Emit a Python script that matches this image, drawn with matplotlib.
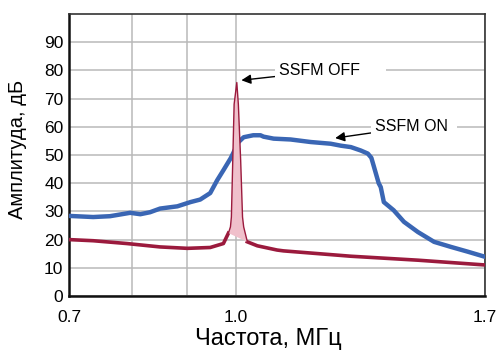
import matplotlib
matplotlib.use("Agg")
import matplotlib.pyplot as plt
from matplotlib.ticker import FixedLocator, NullFormatter

plt.rcParams["font.family"] = ["Liberation Sans", "DejaVu Sans"]

# SSFM ON (blue) spectrum
freq_on = [0.700, 0.737, 0.764, 0.7975, 0.815, 0.832, 0.850, 0.882, 0.907, 0.926,
           0.946, 0.960, 0.973, 0.988, 0.994, 1.005, 1.016, 1.037, 1.053, 1.060,
           1.083, 1.123, 1.172, 1.223, 1.250, 1.277, 1.304, 1.324, 1.334, 1.341,
           1.355, 1.361, 1.370, 1.399, 1.430, 1.473, 1.525, 1.581, 1.639, 1.700]
db_on = [28.4, 28.0, 28.3, 29.5, 29.0, 29.7, 31.0, 31.8, 33.3, 34.2,
         36.5, 41.0, 44.6, 48.8, 50.8, 54.6, 56.3, 57.0, 57.0, 56.5,
         55.8, 55.5, 54.6, 54.0, 53.3, 52.8, 51.6, 50.5, 49.0, 46.0,
         40.0, 38.6, 33.3, 30.4, 26.3, 22.7, 19.2, 17.4, 15.7, 13.9]

# SSFM OFF (red) spectrum: floor left of carrier, carrier spike, floor right
freq_off_left = [0.700, 0.737, 0.792, 0.850, 0.901, 0.946, 0.973, 0.9835]
db_off_left = [20.0, 19.6, 18.6, 17.4, 16.9, 17.2, 18.6, 22.3]
freq_spike = [0.9835, 0.9877, 0.9897, 0.9926, 0.9955, 1.0012, 1.0045, 1.0095, 1.0135, 1.016, 1.024]
db_spike = [22.3, 24.5, 28.0, 48.0, 68.0, 75.7, 68.0, 48.0, 28.0, 24.5, 19.2]
freq_off_right = [1.024, 1.046, 1.091, 1.106, 1.277, 1.473, 1.700]
db_off_right = [19.2, 17.8, 16.3, 16.0, 14.1, 12.7, 11.0]

x_ticks = [0.7, 1.0, 1.7]
x_ticklabels = ["0.7", "1.0", "1.7"]
y_ticks = [0, 10, 20, 30, 40, 50, 60, 70, 80, 90]

BLUE = "#3a66b4"
RED = "#9b1a3d"
PINK = "#f0c0cb"

fig = plt.figure(figsize=(4.99, 3.55), dpi=100)
ax = fig.add_axes([0.1383, 0.1662, 0.8337, 0.7944])

ax.set_xscale("log")
ax.set_xlim(0.7, 1.7)
ax.set_ylim(0, 100)

ax.plot(freq_on, db_on, color=BLUE, lw=3.2, solid_joinstyle="round", zorder=3)
ax.plot(freq_off_left, db_off_left, color=RED, lw=2.6, solid_joinstyle="round", zorder=4)
ax.plot(freq_off_right, db_off_right, color=RED, lw=2.6, solid_joinstyle="round", zorder=4)
ax.fill(freq_spike, db_spike, facecolor=PINK, edgecolor="none", zorder=4)
ax.plot(freq_spike, db_spike, color=RED, lw=1.0, zorder=5)

ax.xaxis.set_major_locator(FixedLocator(x_ticks))
ax.xaxis.set_minor_locator(FixedLocator([0.8, 0.9]))
ax.xaxis.set_minor_formatter(NullFormatter())
ax.set_xticklabels(x_ticklabels)
ax.set_yticks(y_ticks)
ax.tick_params(axis="both", which="both", length=0, labelsize=12.5)
ax.tick_params(axis="x", pad=10)
ax.tick_params(axis="y", pad=4)

ax.grid(True, which="both", color="#b9b9b9", lw=1.1, zorder=0)
ax.set_axisbelow(True)

for side in ("left", "bottom"):
    ax.spines[side].set_linewidth(1.8)
    ax.spines[side].set_color("#111111")
for side in ("top", "right"):
    ax.spines[side].set_linewidth(1.2)
    ax.spines[side].set_color("#333333")

ax.set_xlabel("Частота, МГц", fontsize=17)
ax.set_ylabel("Амплитуда, дБ", fontsize=14.5)
ax.xaxis.set_label_coords(0.48, -0.115)
ax.yaxis.set_label_coords(-0.1, 0.52)

box = dict(boxstyle="square,pad=0.25", facecolor="white", edgecolor="none")
ax.annotate("SSFM OFF     ", xy=(1.011, 76.5), xytext=(1.095, 80),
            fontsize=11.5, va="center", ha="left", bbox=box, zorder=6,
            arrowprops=dict(arrowstyle="-|>", color="black", lw=1.0,
                            mutation_scale=14, shrinkA=0, shrinkB=0))
ax.annotate("SSFM ON ", xy=(1.235, 56.0), xytext=(1.345, 60),
            fontsize=11.5, va="center", ha="left", bbox=box, zorder=6,
            arrowprops=dict(arrowstyle="-|>", color="black", lw=1.0,
                            mutation_scale=14, shrinkA=0, shrinkB=0))

fig.savefig("out.png", dpi=100)
